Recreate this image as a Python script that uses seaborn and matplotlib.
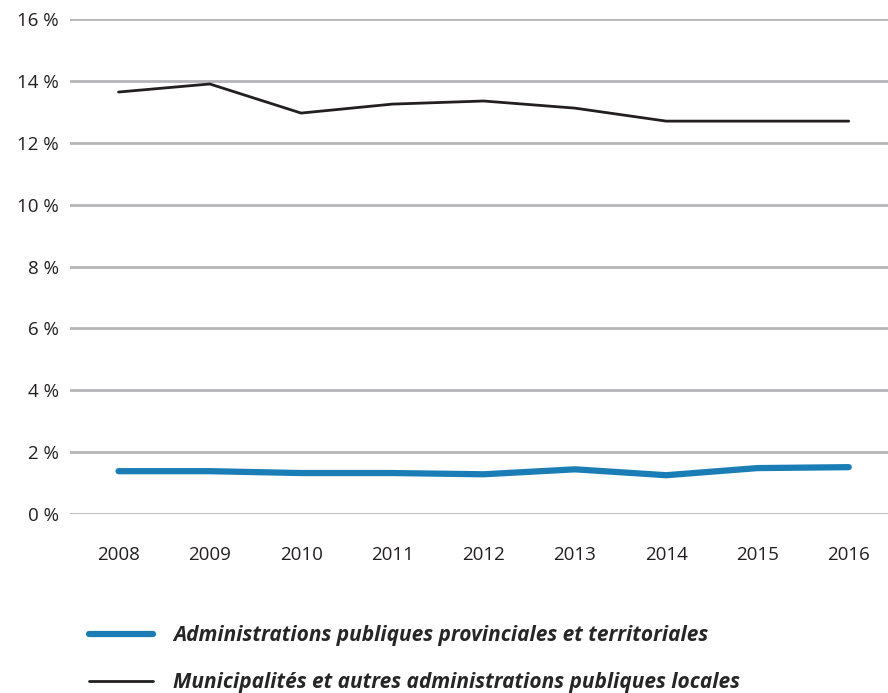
import pandas as pd
import seaborn as sns
import matplotlib.pyplot as plt
from matplotlib.ticker import FuncFormatter
from matplotlib.lines import Line2D

years = ['2008', '2009', '2010', '2011', '2012', '2013', '2014', '2015', '2016']
provinciales = [1.39, 1.39, 1.33, 1.33, 1.29, 1.45, 1.26, 1.49, 1.52]
municipales = [13.64, 13.90, 12.96, 13.25, 13.35, 13.12, 12.70, 12.70, 12.70]
series_names = ['Administrations publiques provinciales et territoriales',
                'Municipalités et autres administrations publiques locales']

df = pd.DataFrame({
    'annee': years * 2,
    'part': provinciales + municipales,
    'serie': [series_names[0]] * len(years) + [series_names[1]] * len(years),
})

sns.set_style('white')
plt.rcParams['font.family'] = ['Open Sans', 'DejaVu Sans']

fig = plt.figure(figsize=(8.88, 6.93), dpi=100)
ax = fig.add_axes([0.079, 0.258, 0.921, 0.7146])

sns.lineplot(data=df, x='annee', y='part', hue='serie', size='serie',
             palette=['#1a7db5', '#231f20'], sizes=[4.5, 2.0],
             sort=False, ax=ax, legend=False)

ax.set_ylim(0, 16)
ax.set_xlim(-0.53, 8.43)
ax.set_yticks(range(0, 17, 2))
ax.yaxis.set_major_formatter(FuncFormatter(lambda v, p: f'{int(v)} %'))
ax.grid(axis='y', color='#b5b5b8', linewidth=2)
ax.set_axisbelow(True)
for s in ax.spines.values():
    s.set_visible(False)
ax.tick_params(axis='both', length=0, labelsize=13.5, colors='#231f20')
ax.tick_params(axis='x', pad=23)
ax.tick_params(axis='y', pad=8)
ax.set_xlabel('')
ax.set_ylabel('')

# legend below the chart
handles = [Line2D([0], [0], color='#1a7db5', lw=4.5, solid_capstyle='round'),
           Line2D([0], [0], color='#231f20', lw=2.0)]
fig.legend(handles, series_names, loc='upper left', bbox_to_anchor=(0.079, 0.125),
           frameon=False, handlelength=3.1, handletextpad=0.95, labelspacing=1.25,
           prop={'size': 15, 'weight': 'bold', 'style': 'italic'},
           bbox_transform=fig.transFigure)

fig.savefig('out.png', dpi=100)
